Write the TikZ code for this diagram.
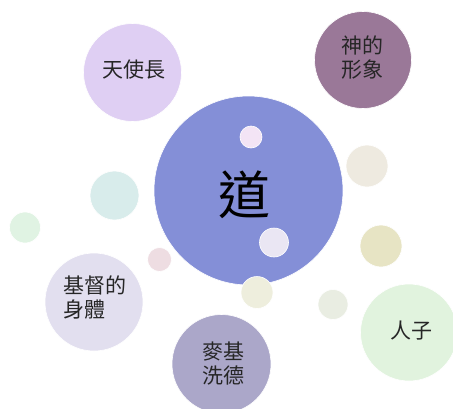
\documentclass[tikz,border=0pt]{standalone}
\usepackage{fontspec}
\newfontfamily\cjk{Noto Sans CJK TC}
\definecolor{cBig}{HTML}{848FD7}
\definecolor{cAngel}{HTML}{DFCFF3}
\definecolor{cImage}{HTML}{9A7898}
\definecolor{cBody}{HTML}{E2DFEF}
\definecolor{cMel}{HTML}{ABA7C9}
\definecolor{cSon}{HTML}{E1F3DE}
\definecolor{cPinkIn}{HTML}{F3E4F5}
\definecolor{cBeige}{HTML}{EEEAE0}
\definecolor{cTeal}{HTML}{D8ECEB}
\definecolor{cGreenL}{HTML}{E0F3E3}
\definecolor{cLavIn}{HTML}{EAE6F3}
\definecolor{cOlive}{HTML}{E7E4C4}
\definecolor{cPink}{HTML}{EEDDE2}
\definecolor{cCream}{HTML}{EEEEDD}
\definecolor{cGrayG}{HTML}{E9EDE2}
\begin{document}
\begin{tikzpicture}[x=1pt,y=-1pt,
  bubble/.style={circle,draw=white,line width=0.6pt,inner sep=0pt,minimum size=#1},
  lbl/.style={font=\cjk\fontsize{21}{24}\selectfont,align=left,text=black!85}]
\useasboundingbox (0,0) rectangle (453,408);
\fill[white] (0,0) rectangle (453,408);
% large and labelled circles
\node[bubble=189pt,fill=cBig] (dao) at (248.5,190.5) {};
\node[font=\cjk\fontsize{52}{52}\selectfont,text=black] (daot) at (244,195) {道};
\node[bubble=98pt,fill=cAngel] (angel) at (132.5,72.5) {};
\node[lbl] (angelt) at (134,70) {天使長};
\node[bubble=97pt,fill=cImage] (image) at (363,60) {};
\node[lbl] (imaget) at (362.5,57.5) {神的\\形象};
\node[bubble=98pt,fill=cBody] (body) at (94,302) {};
\node[lbl] (bodyt) at (95,298) {基督的\\身體};
\node[bubble=99pt,fill=cMel] (mel) at (221.5,364) {};
\node[lbl] (melt) at (223.5,363.5) {麥基\\洗德};
\node[bubble=97pt,fill=cSon] (son) at (409,332.5) {};
\node[lbl] (sont) at (411,331) {人子};
% small decorative circles
\node[bubble=22pt,fill=cPinkIn] (s1) at (251,137) {};
\node[bubble=29pt,fill=cLavIn] (s2) at (274,242.5) {};
\node[bubble=42pt,fill=cBeige] (s3) at (367,166) {};
\node[bubble=49pt,fill=cTeal] (s4) at (114.5,195.5) {};
\node[bubble=31pt,fill=cGreenL] (s5) at (25,227.5) {};
\node[bubble=42pt,fill=cOlive] (s6) at (381,246) {};
\node[bubble=24pt,fill=cPink] (s7) at (159.5,259.5) {};
\node[bubble=32pt,fill=cCream] (s8) at (257,292.5) {};
\node[bubble=30pt,fill=cGrayG] (s9) at (333,304.5) {};
\end{tikzpicture}
\end{document}
